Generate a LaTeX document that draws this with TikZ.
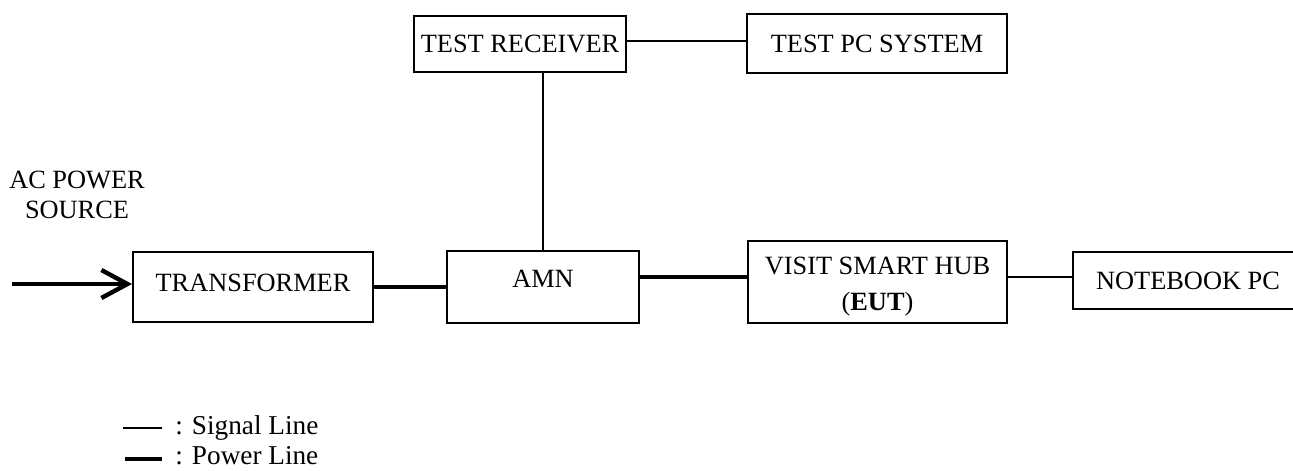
\documentclass[tikz,border=0pt]{standalone}
\usepackage{fontspec}
\setmainfont{Liberation Serif}
\usetikzlibrary{arrows.meta}
\begin{document}
\begin{tikzpicture}[
    box/.style={draw, line width=1.1pt, inner sep=0pt, align=center, font=\fontsize{15}{20.5}\selectfont},
    signal/.style={line width=1.1pt},
    power/.style={line width=2.8pt},
    ]
    \useasboundingbox (0, 0) rectangle (25.86, 9.4);
    \node[box, minimum width=4.24cm, minimum height=1.12cm] (recv) at (10.4, 8.52) {TEST RECEIVER};
    \node[box, minimum width=5.2cm, minimum height=1.18cm] (pcsys) at (17.54, 8.53) {TEST PC SYSTEM};
    \node[box, minimum width=4.8cm, minimum height=1.4cm, text depth=0.16cm] (trans) at (5.06, 3.66) {TRANSFORMER};
    \node[box, minimum width=3.84cm, minimum height=1.44cm, text depth=0.32cm] (amn) at (10.86, 3.66) {AMN};
    \node[box, minimum width=5.18cm, minimum height=1.64cm,
        label={[align=center, inner sep=0pt, yshift=-0.09cm, font=\fontsize{15}{20.5}\selectfont]center:{VISIT SMART HUB\\(\textbf{EUT})}}] (eut) at (17.55, 3.76) {};
    \node[box, minimum width=4.6cm, minimum height=1.14cm] (nbpc) at (23.76, 3.79) {NOTEBOOK PC};
    \node[align=center, inner sep=0pt, font=\fontsize{15}{17}\selectfont] (acsrc) at (1.54, 5.5) {AC POWER\\SOURCE};
    \coordinate (acin) at (0.24, 3.72);
    \draw[line width=2.5pt, -{Straight Barb[length=0.52cm, width=0.56cm]}] (acin) -- (acin -| trans.west);
    \draw[power] (trans) -- (amn);
    \draw[power] ([yshift=0.2cm]amn.east) -- ([yshift=0.2cm]amn.east -| eut.west);
    \draw[signal] ([yshift=0.1cm]eut.east) -- ([yshift=0.1cm]eut.east -| nbpc.west);
    \draw[signal] (amn.north) -- (amn.north |- recv.south);
    \draw[signal] ([yshift=0.06cm]recv.east) -- ([yshift=0.06cm]recv.east -| pcsys.west);
    \coordinate (sigA) at (2.46, 0.84);
    \coordinate (sigB) at (3.24, 0.84);
    \coordinate (powA) at (2.5, 0.22);
    \coordinate (powB) at (3.24, 0.22);
    \draw[signal] (sigA) -- (sigB);
    \draw[power] (powA) -- (powB);
    \node[anchor=base west, inner sep=0pt, font=\fontsize{15.5}{17}\selectfont] (siglbl) at (3.5, 0.72) {: Signal Line};
    \node[anchor=base west, inner sep=0pt, font=\fontsize{15.5}{17}\selectfont] (powlbl) at (3.5, 0.12) {: Power Line};
\end{tikzpicture}
\end{document}
